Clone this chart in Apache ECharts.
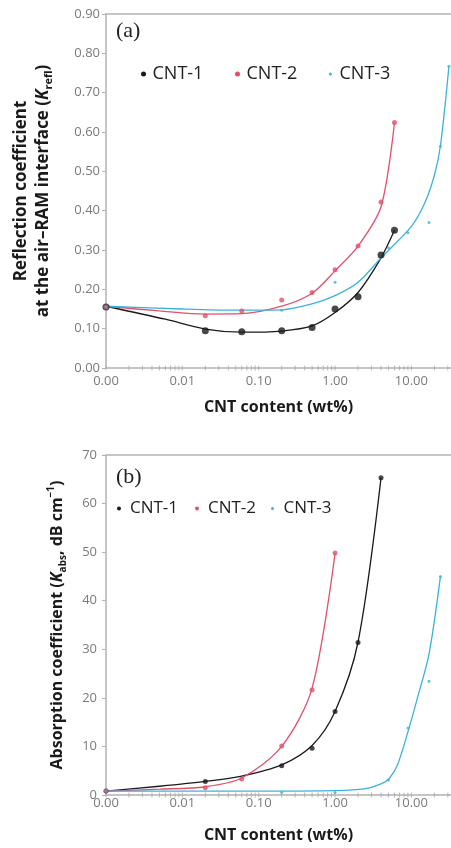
<!DOCTYPE html>
<html><head><meta charset="utf-8">
<script src="https://cdn.jsdelivr.net/npm/echarts@6/dist/echarts.min.js"></script>
<style>html,body{margin:0;padding:0;background:#fff}#c{width:451px;height:848px}</style>
</head><body><div id="c"></div>
<script>
// ---------- data ----------
const seriesNames = ['CNT-1', 'CNT-2', 'CNT-3'];
const seriesColors = ['#1a1a1a', '#e2506a', '#3cb2db'];

// Panel (a): reflection coefficient, measured points [wt%, K_refl]
const reflCNT1 = [[0.001,0.155],[0.02,0.095],[0.06,0.092],[0.2,0.095],[0.5,0.103],[1,0.15],[2,0.181],[4,0.287],[6,0.35]];
const reflCNT2 = [[0.001,0.155],[0.02,0.133],[0.06,0.145],[0.2,0.173],[0.5,0.192],[1,0.25],[2,0.31],[4,0.422],[6,0.624]];
const reflCNT3 = [[0.001,0.155],[0.2,0.147],[1,0.218],[5,0.306],[9,0.344],[17,0.37],[24,0.564],[31,0.767]];
// Panel (a): fitted curves
const reflFit1 = [[0.001,0.157],[0.006,0.124],[0.02,0.099],[0.06,0.091],[0.2,0.094],[0.5,0.107],[1,0.141],[2,0.192],[4,0.28],[6,0.35]];
const reflFit2 = [[0.001,0.157],[0.005,0.145],[0.02,0.137],[0.06,0.138],[0.2,0.157],[0.5,0.19],[1,0.247],[2,0.31],[4,0.41],[6,0.624]];
const reflFit3 = [[0.001,0.157],[0.01,0.15],[0.05,0.147],[0.2,0.148],[0.5,0.163],[1,0.184],[2,0.218],[4,0.28],[10,0.36],[15,0.42],[20,0.49],[24,0.565],[31,0.767]];

// Panel (b): absorption coefficient, measured points [wt%, K_abs]
const absCNT1 = [[0.001,0.8],[0.02,2.8],[0.2,6.0],[0.5,9.6],[1,17.2],[2,31.4],[4,65.3]];
const absCNT2 = [[0.001,0.8],[0.02,1.5],[0.06,3.3],[0.2,10.1],[0.5,21.6],[1,49.8]];
const absCNT3 = [[0.001,0.8],[0.2,0.5],[1,0.5],[5,3.1],[9,13.8],[17,23.4],[24,45]];
// Panel (b): fitted curves
const absFit1 = [[0.001,0.8],[0.005,1.8],[0.02,2.8],[0.06,3.9],[0.2,6.2],[0.5,10.2],[1,17.2],[2,31.5],[4,65.3]];
const absFit2 = [[0.001,0.8],[0.005,1.2],[0.02,1.7],[0.06,3.5],[0.2,10],[0.5,22],[1,49.8]];
const absFit3 = [[0.001,0.8],[0.1,0.8],[1,0.9],[2.5,1.3],[4,2.3],[5,3.2],[6.5,6],[9,13],[12,20],[17,29],[24,45]];

// x-axis tick marks (log decades and their minor steps)
const xTickMarks = [0.001,0.002,0.003,0.004,0.005,0.006,0.007,0.008,0.009,
  0.01,0.02,0.03,0.04,0.05,0.06,0.07,0.08,0.09,
  0.1,0.2,0.3,0.4,0.5,0.6,0.7,0.8,0.9,
  1,2,3,4,5,6,7,8,9,10,20,30];

// ---------- chart ----------
const FONT = 'Open Sans';
const axisGray = '#b3b3b3';
const labelGray = '#7a7a7a';

function xLog(grid, labelMargin) {
  return {
    type: 'log', logBase: 10, gridIndex: grid, min: 0.001, max: 33,
    axisLine: {show: true, lineStyle: {color: axisGray, width: 1.5}},
    axisTick: {show: false},
    splitLine: {show: false},
    axisLabel: {color: labelGray, fontFamily: FONT, fontSize: 13, margin: labelMargin,
      showMaxLabel: false, formatter: v => Number(v).toFixed(2)},
    name: 'CNT content (wt%)', nameLocation: 'middle', nameGap: grid === 0 ? 31 : 32,
    nameTextStyle: {fontFamily: FONT, fontWeight: 'bold', fontSize: 16, color: '#1a1a1a'}
  };
}
function xTop(grid) {
  return {type: 'value', gridIndex: grid, position: 'top', min: 0, max: 1,
    axisLine: {show: true, lineStyle: {color: axisGray, width: 1.5}},
    axisTick: {show: false}, axisLabel: {show: false}, splitLine: {show: false}};
}
const richCommon = (fs) => ({
  b: {fontFamily: FONT, fontWeight: 'bold', fontSize: fs, color: '#1a1a1a', lineHeight: 22, verticalAlign: 'middle'},
  i: {fontFamily: FONT, fontWeight: 'bold', fontStyle: 'italic', fontSize: fs, color: '#1a1a1a', lineHeight: 22, verticalAlign: 'middle'},
  s: {fontFamily: FONT, fontWeight: 'bold', fontSize: Math.round(fs * 0.62), color: '#1a1a1a', lineHeight: 12, verticalAlign: 'bottom'},
  p: {fontFamily: FONT, fontWeight: 'bold', fontSize: Math.round(fs * 0.62), color: '#1a1a1a', lineHeight: 12, verticalAlign: 'top'}
});

function pointSeries(name, data, xi, yi, color, size) {
  return {name, type: 'scatter', xAxisIndex: xi, yAxisIndex: yi, data,
    symbol: 'circle', symbolSize: size, itemStyle: {color}, z: 5, clip: false};
}
function fitSeries(name, data, xi, yi, color) {
  return {name, type: 'line', xAxisIndex: xi, yAxisIndex: yi, data,
    smooth: 0.3, showSymbol: false, symbol: 'none',
    lineStyle: {color, width: 1.3}, itemStyle: {color}, z: 4, silent: true};
}
function tickSeries(xi, yi) {
  return {type: 'scatter', xAxisIndex: xi, yAxisIndex: yi, silent: true, clip: false,
    data: xTickMarks.map(v => [v, 0]), symbol: 'rect', symbolSize: [1, 5],
    itemStyle: {color: '#a8a8a8'}, z: 3};
}
function legendItem(name, color, left, top, size, fs, iw) {
  return {left, top, itemWidth: iw, itemHeight: size, padding: 0,
    textStyle: {fontFamily: FONT, fontSize: fs, color: '#222'},
    data: [{name, icon: 'circle', itemStyle: {color}}]};
}

const option = {
  animation: false,
  backgroundColor: '#fff',
  grid: [
    {left: 106, top: 14, width: 345, height: 354},
    {left: 106, top: 455, width: 345, height: 340}
  ],
  xAxis: [xLog(0, 7), xLog(1, 2), xTop(0), xTop(1)],
  yAxis: [
    {type: 'value', gridIndex: 0, min: 0, max: 0.9, interval: 0.1,
      axisLine: {show: true, lineStyle: {color: axisGray, width: 1.5}},
      axisTick: {show: true, inside: false, length: 4, lineStyle: {color: axisGray}},
      splitLine: {show: false},
      axisLabel: {color: labelGray, fontFamily: FONT, fontSize: 13, margin: 6, formatter: v => v.toFixed(2)},
      name: '{b|Reflection coefficient}\n{b|at the air\u2013RAM interface (}{i|K}{s|refl}{b|)}',
      nameLocation: 'middle', nameRotate: 90, nameGap: 52,
      nameTextStyle: {rich: richCommon(17), align: 'center'}},
    {type: 'value', gridIndex: 1, min: 0, max: 70, interval: 10,
      axisLine: {show: true, lineStyle: {color: axisGray, width: 1.5}},
      axisTick: {show: true, inside: false, length: 4, lineStyle: {color: axisGray}},
      splitLine: {show: false},
      axisLabel: {color: labelGray, fontFamily: FONT, fontSize: 13, margin: 9},
      name: '{b|Absorption coefficient (}{i|K}{s|abs}{b|, dB cm}{p|\u22121}{b|)}',
      nameLocation: 'middle', nameRotate: 90, nameGap: 38,
      nameTextStyle: {rich: richCommon(16)}}
  ],
  legend: [
    legendItem('CNT-1', seriesColors[0], 141, 65, 5, 18, 8),
    legendItem('CNT-2', seriesColors[1], 235, 65, 5, 18, 8),
    legendItem('CNT-3', seriesColors[2], 329, 65, 3, 18, 8),
    legendItem('CNT-1', seriesColors[0], 117, 500, 4, 17, 12),
    legendItem('CNT-2', seriesColors[1], 195, 500, 4, 17, 12),
    legendItem('CNT-3', seriesColors[2], 271, 500, 3, 17, 12)
  ],
  graphic: [
    {type: 'text', left: 116, top: 20, style: {text: '(a)', font: '22px "Liberation Serif"', fill: '#222'}},
    {type: 'text', left: 116, top: 466, style: {text: '(b)', font: '22px "Liberation Serif"', fill: '#222'}}
  ],
  series: [
    tickSeries(0, 0), tickSeries(1, 1),
    fitSeries(seriesNames[0], reflFit1, 0, 0, seriesColors[0]),
    fitSeries(seriesNames[1], reflFit2, 0, 0, seriesColors[1]),
    fitSeries(seriesNames[2], reflFit3, 0, 0, seriesColors[2]),
    pointSeries(seriesNames[0], reflCNT1, 0, 0, seriesColors[0], 7),
    pointSeries(seriesNames[1], reflCNT2, 0, 0, seriesColors[1], 5),
    pointSeries(seriesNames[2], reflCNT3, 0, 0, seriesColors[2], 3),
    fitSeries(seriesNames[0], absFit1, 1, 1, seriesColors[0]),
    fitSeries(seriesNames[1], absFit2, 1, 1, seriesColors[1]),
    fitSeries(seriesNames[2], absFit3, 1, 1, seriesColors[2]),
    pointSeries(seriesNames[0], absCNT1, 1, 1, seriesColors[0], 5),
    pointSeries(seriesNames[1], absCNT2, 1, 1, seriesColors[1], 5),
    pointSeries(seriesNames[2], absCNT3, 1, 1, seriesColors[2], 3)
  ]
};
const chart = echarts.init(document.getElementById('c'), null, {renderer: 'canvas'});
chart.setOption(option);
</script></body></html>
